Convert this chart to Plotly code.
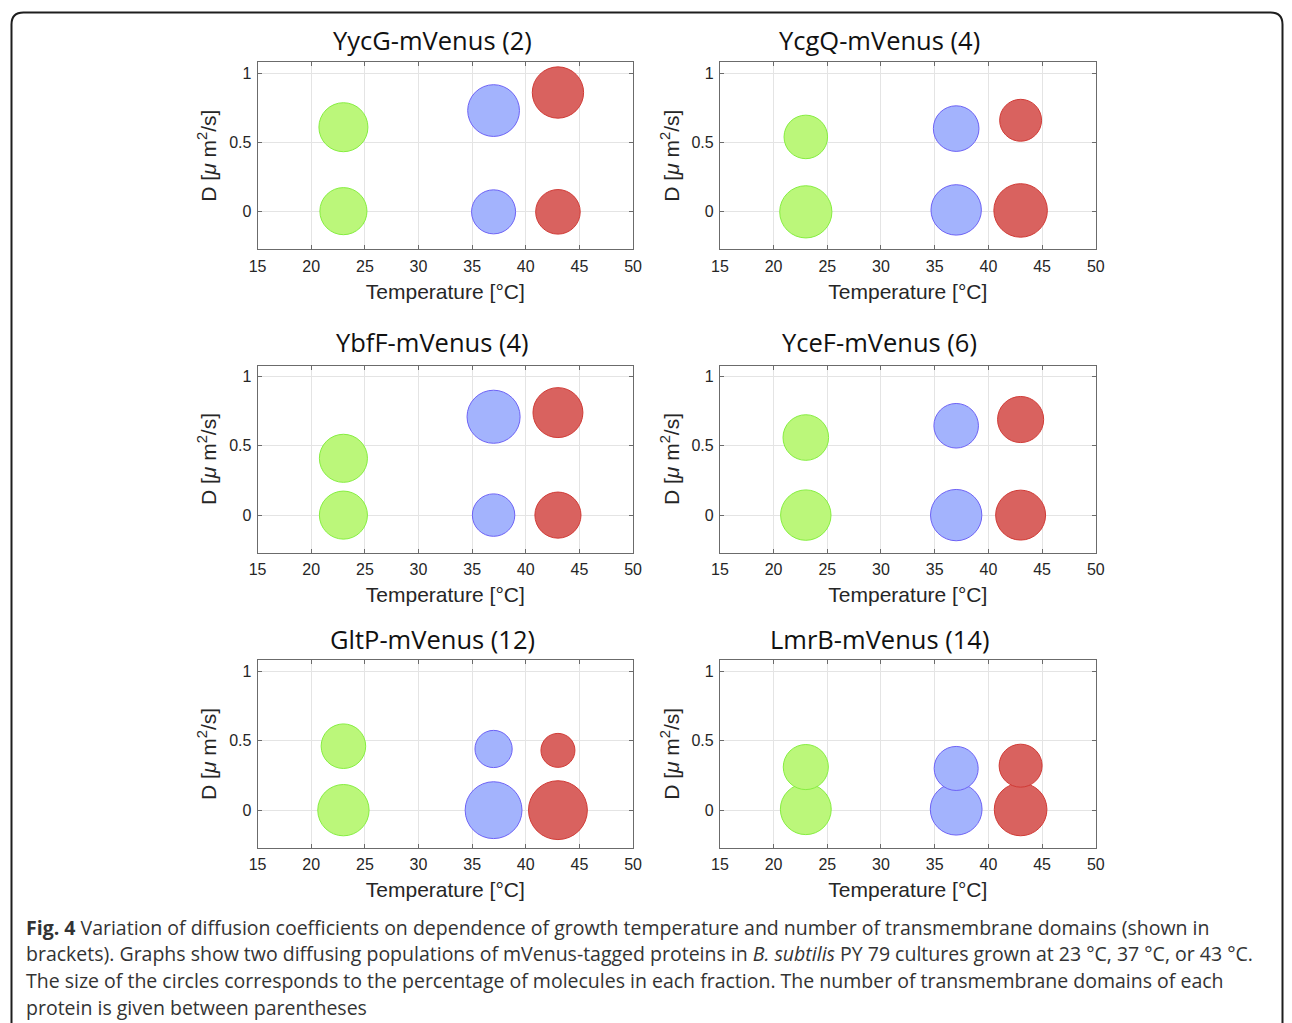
import plotly.graph_objects as go

# ---------------- data ----------------
proteins = ["YycG-mVenus (2)", "YcgQ-mVenus (4)", "YbfF-mVenus (4)",
            "YceF-mVenus (6)", "GltP-mVenus (12)", "LmrB-mVenus (14)"]
temperatures = [23, 37, 43]

# diffusion coefficient of the fast population [um^2/s] at 23, 37, 43 C
d_fast = [
    [0.61, 0.73, 0.86],
    [0.54, 0.60, 0.66],
    [0.41, 0.71, 0.74],
    [0.56, 0.645, 0.69],
    [0.46, 0.44, 0.43],
    [0.31, 0.30, 0.32],
]
# diffusion coefficient of the slow (static) population
d_slow = [
    [0.005, 0.0, 0.0],
    [0.0, 0.014, 0.01],
    [0.0, 0.0, 0.0],
    [0.0, 0.0, 0.0],
    [0.0, 0.0, 0.0],
    [0.007, 0.007, 0.005],
]
# percentage of molecules in each fraction
pct_fast = [
    [52, 58, 57],
    [41, 45, 38],
    [50, 61, 54],
    [45, 43, 46],
    [43, 30, 25],
    [44, 42, 40],
]
pct_slow = [
    [48, 42, 43],
    [59, 55, 62],
    [50, 39, 46],
    [55, 57, 54],
    [57, 70, 75],
    [56, 58, 60],
]

x_ticks = [15, 20, 25, 30, 35, 40, 45, 50]
y_ticks = [0, 0.5, 1]
y_tick_text = ["0", "0.5", "1"]

caption_lines = [
    "<b>Fig. 4</b> Variation of diffusion coefficients on dependence of growth temperature and number of transmembrane domains (shown in",
    "brackets). Graphs show two diffusing populations of mVenus-tagged proteins in <i>B. subtilis</i> PY 79 cultures grown at 23 °C, 37 °C, or 43 °C.",
    "The size of the circles corresponds to the percentage of molecules in each fraction. The number of transmembrane domains of each",
    "protein is given between parentheses",
]

# ---------------- styling ----------------
W, H = 1292, 1023
fill_colors = ["#bbf77a", "#a3b3fd", "#d9625f"]
edge_colors = ["#86ee40", "#6d62f5", "#d03b36"]
SIZEREF = 0.0433

col_x = [(257, 633), (720, 1096.5)]
row_y = [(62, 249.3), (365.5, 552.5), (660, 847.7)]
title_y = [40, 342, 639]
title_x = [432.5, 880]

# the rendered page places the figure 8 px in and 16 px narrower
X_OFF, X_SPAN = 8.0, 1276.0

def px_x(v):
    return (v - X_OFF) / X_SPAN

def px_y(v):
    return 1 - v / H

fig = go.Figure()
layout = {}
AX_FONT = "Liberation Sans, Arial"

for i, name in enumerate(proteins):
    r, c = divmod(i, 2)
    n = i + 1
    xa = "x" if n == 1 else f"x{n}"
    ya = "y" if n == 1 else f"y{n}"
    for t, temp in enumerate(temperatures):
        fig.add_trace(go.Scatter(
            x=[temp, temp],
            y=[d_slow[i][t], d_fast[i][t]],
            mode="markers",
            marker=dict(size=[pct_slow[i][t], pct_fast[i][t]],
                        sizemode="area", sizeref=SIZEREF, opacity=1,
                        color=fill_colors[t],
                        line=dict(color=edge_colors[t], width=1)),
            xaxis=xa, yaxis=ya, showlegend=False, hoverinfo="x+y",
        ))
    x0, x1 = col_x[c]
    y0, y1 = row_y[r]
    common = dict(showline=True, linecolor="#6b6b6b", linewidth=1, mirror="ticks",
                  ticks="inside", ticklen=4, tickcolor="#6b6b6b",
                  showgrid=True, gridcolor="#e4e4e4", gridwidth=1, zeroline=False,
                  tickfont=dict(family=AX_FONT, size=16, color="#262626"))
    layout["xaxis" if n == 1 else f"xaxis{n}"] = dict(
        domain=[px_x(x0), px_x(x1)], range=[15, 50], tickvals=x_ticks,
        anchor=ya, ticklabelstandoff=2,
        title=dict(text="Temperature [°C]", standoff=10,
                   font=dict(family=AX_FONT, size=21, color="#262626")),
        **common)
    layout["yaxis" if n == 1 else f"yaxis{n}"] = dict(
        domain=[px_y(y1), px_y(y0)], range=[-0.27, 1.08], tickvals=y_ticks,
        ticktext=y_tick_text, anchor=xa, ticklabelstandoff=2,
        title=dict(text="D [<i>μ</i> m<sup>2</sup>/s]", standoff=6,
                   font=dict(family=AX_FONT, size=21, color="#262626")),
        **common)

annotations = []
for i, name in enumerate(proteins):
    r, c = divmod(i, 2)
    annotations.append(dict(
        text=name, xref="paper", yref="paper",
        x=px_x(title_x[c]), y=px_y(title_y[r]),
        xanchor="center", yanchor="middle", showarrow=False,
        font=dict(family="Open Sans", size=25.5, color="#111111")))

cap_y = [927, 953, 980, 1007]
for line, yy in zip(caption_lines, cap_y):
    annotations.append(dict(
        text=line, xref="paper", yref="paper",
        x=px_x(23), y=px_y(yy), xanchor="left", yanchor="middle",
        showarrow=False, align="left",
        font=dict(family="Open Sans", size=19.5, color="#333333")))

# rounded frame around the figure (open at the bottom)
fx0, fx1, fy0, rr = 10.5, 1283.5, 12.5, 12
def P(xp, yp):
    return f"{px_x(xp):.5f},{px_y(yp):.5f}"
frame = (f"M {P(fx0, 1030)} L {P(fx0, fy0 + rr)} Q {P(fx0, fy0)} {P(fx0 + rr, fy0)} "
         f"L {P(fx1 - rr, fy0)} Q {P(fx1, fy0)} {P(fx1, fy0 + rr)} L {P(fx1, 1030)}")

fig.update_layout(
    autosize=False,
    width=W, height=H, margin=dict(l=0, r=0, t=0, b=0),
    paper_bgcolor="white", plot_bgcolor="white",
    annotations=annotations,
    shapes=[dict(type="path", path=frame, xref="paper", yref="paper",
                 line=dict(color="#1e1e1e", width=2))],
    **layout,
)

fig.write_html("out.html", config={"responsive": False},
               post_script="document.body.style.margin='0px';document.body.style.overflow='hidden';")
